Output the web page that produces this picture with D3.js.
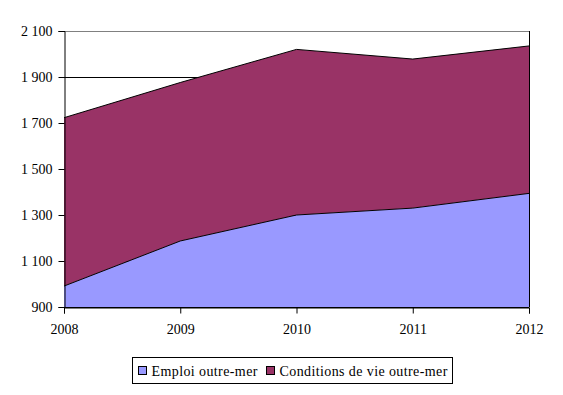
<!DOCTYPE html>
<html>
<head>
<meta charset="utf-8">
<script src="https://cdn.jsdelivr.net/npm/d3@7"></script>
<style>
  body { margin: 0; background: #fff; }
</style>
</head>
<body>
<div id="chart"></div>
<script>
// DATA
const years = [2008, 2009, 2010, 2011, 2012];
const emploi = [991, 1187, 1300, 1330, 1394];
const conditions = [732, 689, 720, 648, 641];
const seriesNames = ["Emploi outre-mer", "Conditions de vie outre-mer"];
const seriesColors = ["#9999FF", "#993366"];
const yTicks = [900, 1100, 1300, 1500, 1700, 1900, 2100];

const width = 563, height = 395;
const margin = { top: 31, right: 34, bottom: 88, left: 64 };
const FONT = "Liberation Serif, Times New Roman, serif";

const svg = d3.select("#chart").append("svg")
  .attr("width", width).attr("height", height);

const xScale = d3.scaleLinear()
  .domain([2008, 2012])
  .range([margin.left, width - margin.right]);
const yScale = d3.scaleLinear()
  .domain([900, 2100])
  .range([height - margin.bottom, margin.top]);

svg.append("clipPath").attr("id", "plot")
  .append("rect")
  .attr("x", margin.left).attr("y", margin.top)
  .attr("width", width - margin.right - margin.left)
  .attr("height", height - margin.bottom - margin.top);

const rows = years.map((y, i) => ({ year: y, emploi: emploi[i], conditions: conditions[i] }));
const stacked = d3.stack().keys(["emploi", "conditions"])(rows);

// gridlines (behind areas)
svg.append("g")
  .selectAll("line")
  .data(yTicks.slice(0, -1))
  .join("line")
  .attr("x1", margin.left).attr("x2", width - margin.right)
  .attr("y1", d => Math.round(yScale(d)) + 0.5)
  .attr("y2", d => Math.round(yScale(d)) + 0.5)
  .attr("stroke", "#000");

const area = d3.area()
  .x(d => xScale(d.data.year))
  .y0(d => yScale(Math.max(d[0], 900)))
  .y1(d => yScale(d[1]));

const plot = svg.append("g").attr("clip-path", "url(#plot)");
plot.append("g")
  .selectAll("path")
  .data(stacked)
  .join("path")
  .attr("fill", (d, i) => seriesColors[i])
  .attr("d", area);

// boundary lines
const topLine = d3.line()
  .x(d => xScale(d.data.year))
  .y(d => yScale(d[1]));
plot.append("g")
  .selectAll("path")
  .data(stacked)
  .join("path")
  .attr("fill", "none")
  .attr("stroke", "#000")
  .attr("stroke-width", 1)
  .attr("d", topLine);

// top border
svg.append("line")
  .attr("x1", margin.left).attr("x2", width - margin.right + 0.5)
  .attr("y1", margin.top + 0.5).attr("y2", margin.top + 0.5)
  .attr("stroke", "#808080");
// right border
svg.append("line")
  .attr("x1", width - margin.right + 0.5).attr("x2", width - margin.right + 0.5)
  .attr("y1", margin.top).attr("y2", height - margin.bottom)
  .attr("stroke", "#000");

// AXES
const fmt = d => d3.format(",")(d).replace(",", " ");
const yAxis = d3.axisLeft(yScale).tickValues(yTicks).tickFormat(fmt).tickSize(6).tickPadding(6);
const xAxis = d3.axisBottom(xScale).tickValues(years).tickFormat(d3.format("d")).tickSize(6).tickPadding(11);

svg.append("g")
  .attr("transform", `translate(${margin.left + 0.5},0)`)
  .call(yAxis)
  .attr("font-family", FONT).attr("font-size", 14)
  .call(g => g.select(".domain").attr("stroke", "#000"));

svg.append("g")
  .attr("transform", `translate(0,${height - margin.bottom + 0.5})`)
  .call(xAxis)
  .attr("font-family", FONT).attr("font-size", 14)
  .call(g => g.select(".domain").attr("stroke", "#000"));

// LEGEND
const legend = svg.append("g").attr("transform", "translate(132.5,357.5)")
  .attr("font-family", FONT).attr("font-size", 14);
legend.append("rect")
  .attr("width", 320).attr("height", 26)
  .attr("fill", "#fff").attr("stroke", "#000");
const legendX = [6, 134];
seriesNames.forEach((name, i) => {
  legend.append("rect")
    .attr("x", legendX[i]).attr("y", 9)
    .attr("width", 8).attr("height", 8)
    .attr("fill", seriesColors[i]).attr("stroke", "#000");
  legend.append("text")
    .attr("x", legendX[i] + 13).attr("y", 18)
    .attr("fill", "#000")
    .attr("letter-spacing", 0.4)
    .text(name);
});
</script>
</body>
</html>
